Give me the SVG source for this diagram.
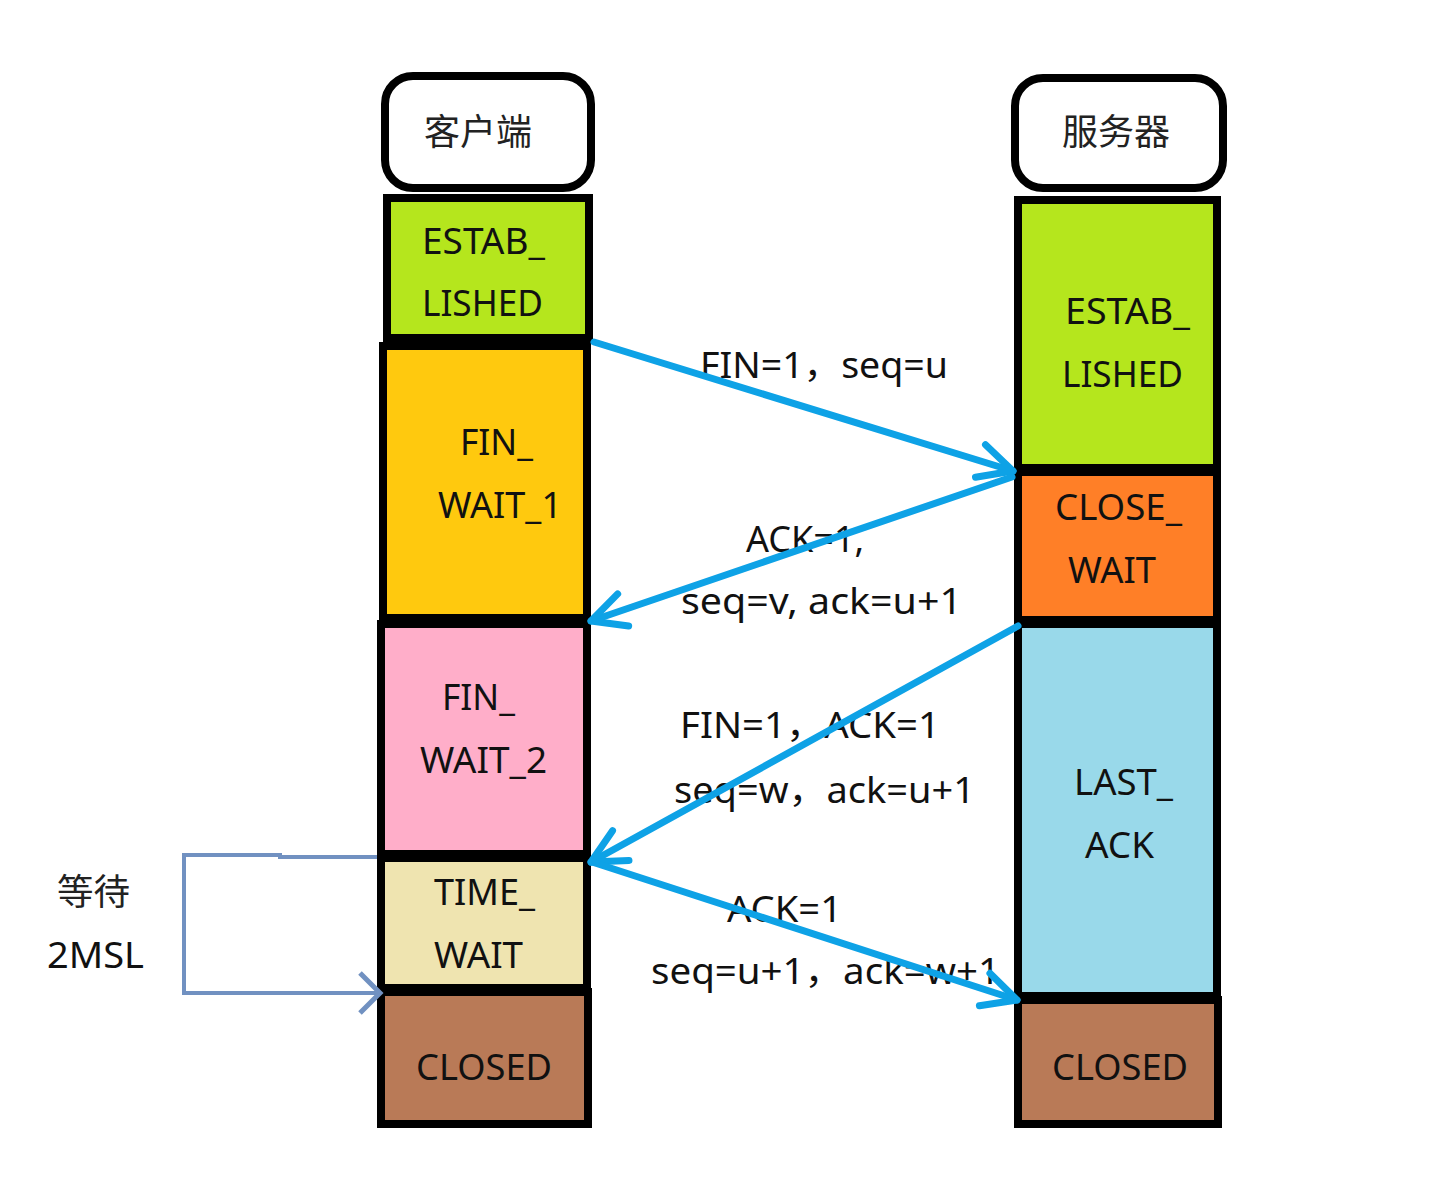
<svg xmlns="http://www.w3.org/2000/svg" width="1456" height="1181" viewBox="0 0 1456 1181">
<defs>
<style>
.box{stroke:#000;stroke-width:8}
.hdr{fill:#fff;stroke:#000;stroke-width:8}
.t{font-family:"Noto Sans","Noto Sans CJK SC",sans-serif;font-size:36px;fill:#111}
.c{font-family:"Noto Sans CJK SC","Noto Sans",sans-serif;font-size:36px;fill:#222}
.msg{stroke:#0ea2e6;stroke-width:7;fill:none;stroke-linecap:round;stroke-linejoin:round}
.loop{stroke:#7191c1;stroke-width:4;fill:none}
</style>
<marker id="ah" markerUnits="userSpaceOnUse" markerWidth="60" markerHeight="60" viewBox="-40 -30 50 60" refX="0" refY="0" orient="auto">
<path d="M-34,-17 L0,0 L-34,17" fill="none" stroke="#0ea2e6" stroke-width="7" stroke-linecap="round" stroke-linejoin="round"/>
</marker>
<marker id="ah2" markerUnits="userSpaceOnUse" markerWidth="50" markerHeight="50" viewBox="-30 -25 40 50" refX="0" refY="0" orient="auto">
<path d="M-20,-20 L0,0 L-20,20" fill="none" stroke="#7191c1" stroke-width="5"/>
</marker>
</defs>
<rect width="1456" height="1181" fill="#fff"/>

<g id="client-header"><rect class="hdr" x="385" y="76" width="206" height="112" rx="28"/><text class="c" x="424" y="145" textLength="108" lengthAdjust="spacingAndGlyphs">客户端</text></g>
<g id="client-established"><rect class="box" x="387" y="198" width="202" height="140" fill="#b5e61d"/><text class="t" x="422" y="254" textLength="123" lengthAdjust="spacingAndGlyphs">ESTAB_</text><text class="t" x="422" y="316" textLength="121" lengthAdjust="spacingAndGlyphs">LISHED</text></g>
<g id="client-fin-wait-1"><rect class="box" x="383" y="346" width="204" height="272" fill="#ffc90e"/><text class="t" x="460" y="455" textLength="73" lengthAdjust="spacingAndGlyphs">FIN_</text><text class="t" x="438" y="518" textLength="124" lengthAdjust="spacingAndGlyphs">WAIT_1</text></g>
<g id="client-fin-wait-2"><rect class="box" x="381" y="624" width="206" height="230" fill="#ffaec9"/><text class="t" x="442" y="710" textLength="73" lengthAdjust="spacingAndGlyphs">FIN_</text><text class="t" x="420" y="773" textLength="127" lengthAdjust="spacingAndGlyphs">WAIT_2</text></g>
<g id="client-time-wait"><rect class="box" x="381" y="858" width="206" height="130" fill="#efe4b0"/><text class="t" x="434" y="905" textLength="101" lengthAdjust="spacingAndGlyphs">TIME_</text><text class="t" x="434" y="968" textLength="89" lengthAdjust="spacingAndGlyphs">WAIT</text></g>
<g id="client-closed"><rect class="box" x="381" y="992" width="207" height="132" fill="#b97a57"/><text class="t" x="416" y="1080" textLength="136" lengthAdjust="spacingAndGlyphs">CLOSED</text></g>

<g id="server-header"><rect class="hdr" x="1015" y="78" width="208" height="110" rx="28"/><text class="c" x="1062" y="145" textLength="108" lengthAdjust="spacingAndGlyphs">服务器</text></g>
<g id="server-established"><rect class="box" x="1018" y="200" width="199" height="268" fill="#b5e61d"/><text class="t" x="1065" y="324" textLength="125" lengthAdjust="spacingAndGlyphs">ESTAB_</text><text class="t" x="1062" y="387" textLength="121" lengthAdjust="spacingAndGlyphs">LISHED</text></g>
<g id="server-close-wait"><rect class="box" x="1018" y="472" width="199" height="148" fill="#ff7f27"/><text class="t" x="1055" y="520" textLength="127" lengthAdjust="spacingAndGlyphs">CLOSE_</text><text class="t" x="1068" y="583" textLength="88" lengthAdjust="spacingAndGlyphs">WAIT</text></g>
<g id="server-last-ack"><rect class="box" x="1018" y="624" width="199" height="372" fill="#99d9ea"/><text class="t" x="1074" y="795" textLength="99" lengthAdjust="spacingAndGlyphs">LAST_</text><text class="t" x="1085" y="858" textLength="69" lengthAdjust="spacingAndGlyphs">ACK</text></g>
<g id="server-closed"><rect class="box" x="1018" y="1000" width="200" height="124" fill="#b97a57"/><text class="t" x="1052" y="1080" textLength="136" lengthAdjust="spacingAndGlyphs">CLOSED</text></g>

<g id="wait-label"><text class="c" x="57" y="905" textLength="73" lengthAdjust="spacingAndGlyphs">等待</text><text class="t" x="47" y="968" textLength="97" lengthAdjust="spacingAndGlyphs">2MSL</text></g>

<g id="labels">
<text class="t" x="700" y="378" textLength="248" lengthAdjust="spacingAndGlyphs">FIN=1，seq=u</text>
<text class="t" x="746" y="552">ACK=1,</text>
<text class="t" x="681" y="614" textLength="281" lengthAdjust="spacingAndGlyphs">seq=v, ack=u+1</text>
<text class="t" x="680" y="738" textLength="260" lengthAdjust="spacingAndGlyphs">FIN=1，ACK=1</text>
<text class="t" x="674" y="803" textLength="301" lengthAdjust="spacingAndGlyphs">seq=w，ack=u+1</text>
<text class="t" x="727" y="922" textLength="115" lengthAdjust="spacingAndGlyphs">ACK=1</text>
<text class="t" x="651" y="984" textLength="349" lengthAdjust="spacingAndGlyphs">seq=u+1，ack=w+1</text>
</g>

<g id="connectors">
<line class="msg" x1="594" y1="342" x2="1013" y2="471" marker-end="url(#ah)"/>
<line class="msg" x1="1012" y1="477" x2="591" y2="621" marker-end="url(#ah)"/>
<line class="msg" x1="1018" y1="626" x2="591" y2="862" marker-end="url(#ah)"/>
<line class="msg" x1="592" y1="862" x2="1017" y2="1000" marker-end="url(#ah)"/>
<polyline class="loop" points="377,857 280,857 280,855 184,855 184,993 380,993" marker-end="url(#ah2)"/>
</g>
</svg>
